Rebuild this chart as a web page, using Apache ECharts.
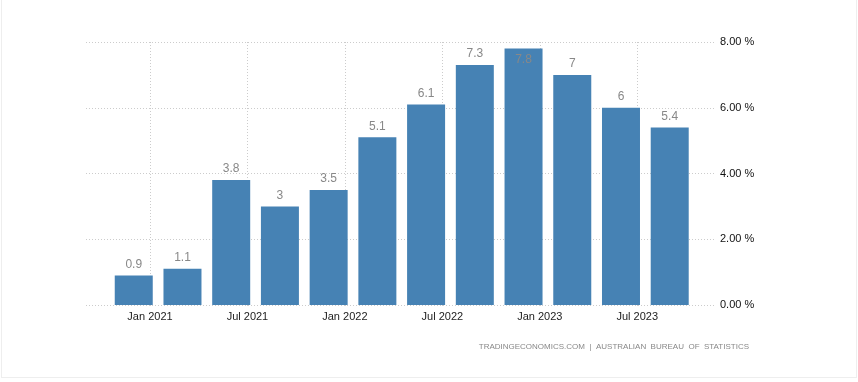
<!DOCTYPE html>
<html>
<head>
<meta charset="utf-8">
<script src="https://cdn.jsdelivr.net/npm/echarts@6/dist/echarts.min.js"></script>
<style>
  html, body { margin: 0; padding: 0; background: #fff; }
  #chart { position: absolute; left: 0; top: 0; width: 858px; height: 382px; }
  #frame { position: absolute; left: 1px; top: 0; width: 854px; height: 377px;
           border-left: 1px solid #eeeeee; border-right: 1px solid #eeeeee; border-bottom: 1px solid #eeeeee;
           pointer-events: none; }
</style>
</head>
<body>
<div id="chart"></div>
<div id="frame"></div>
<script>
// Quarterly periods (month the bar is plotted at) and annual inflation rate (%)
const periods = ['2020-12', '2021-03', '2021-06', '2021-09', '2021-12', '2022-03',
                 '2022-06', '2022-09', '2022-12', '2023-03', '2023-06', '2023-09'];
const values = [0.9, 1.1, 3.8, 3, 3.5, 5.1, 6.1, 7.3, 7.8, 7, 6, 5.4];
const xTickLabels = ['Jan 2021', 'Jul 2021', 'Jan 2022', 'Jul 2022', 'Jan 2023', 'Jul 2023'];
const xTickMonths = [0, 6, 12, 18, 24, 30]; // months after Jan 2021
const yTickLabels = ['0.00 %', '2.00 %', '4.00 %', '6.00 %', '8.00 %'];
const sourceText = 'TRADINGECONOMICS.COM  |  AUSTRALIAN  BUREAU  OF  STATISTICS';

// month offset from Jan 2021
function monthIndex(p) {
  const [y, m] = p.split('-').map(Number);
  return (y - 2021) * 12 + (m - 1);
}
const seriesData = periods.map((p, i) => {
  const item = { value: [monthIndex(p), values[i]] };
  if (values[i] >= 7.5) {
    item.label = { position: 'insideTop', distance: 5 };
  }
  return item;
});

const font = '"Liberation Sans", Arial, sans-serif';
const chart = echarts.init(document.getElementById('chart'), null, { renderer: 'canvas' });
chart.setOption({
  animation: false,
  backgroundColor: '#ffffff',
  grid: { left: 86, right: 142, top: 42, bottom: 77, containLabel: false },
  xAxis: {
    type: 'value',
    min: -3.94,
    max: 34.85,
    axisLine: { show: false },
    axisTick: {
      show: true,
      customValues: xTickMonths,
      length: 3,
      lineStyle: { color: '#cccccc', type: [1, 2], width: 1 }
    },
    axisLabel: {
      customValues: xTickMonths,
      margin: 6,
      fontFamily: font,
      fontSize: 11,
      color: '#222',
      formatter: v => xTickLabels[xTickMonths.indexOf(Math.round(v))] || ''
    },
    splitLine: {
      show: true,
      lineStyle: { color: '#cccccc', type: [1, 2], width: 1 }
    }
  },
  yAxis: {
    type: 'value',
    position: 'right',
    min: 0,
    max: 8,
    interval: 2,
    axisLine: { show: false },
    axisTick: { show: false },
    axisLabel: {
      margin: 4,
      fontFamily: font,
      fontSize: 11,
      color: '#111',
      formatter: v => yTickLabels[Math.round(v / 2)]
    },
    splitLine: { show: true, lineStyle: { color: '#cccccc', type: [1, 2], width: 1 } }
  },
  series: [{
    type: 'bar',
    data: seriesData,
    barWidth: 38,
    itemStyle: { color: '#4682b4' },
    label: {
      show: true,
      position: 'top',
      distance: 5,
      fontFamily: font,
      fontSize: 12,
      color: '#888888',
      formatter: p => String(p.value[1])
    }
  }],
  graphic: [{
    type: 'text',
    right: 109,
    top: 343,
    style: {
      text: sourceText,
      fontFamily: font,
      fontSize: 8,
      fill: '#888888'
    }
  }]
});
</script>
</body>
</html>
